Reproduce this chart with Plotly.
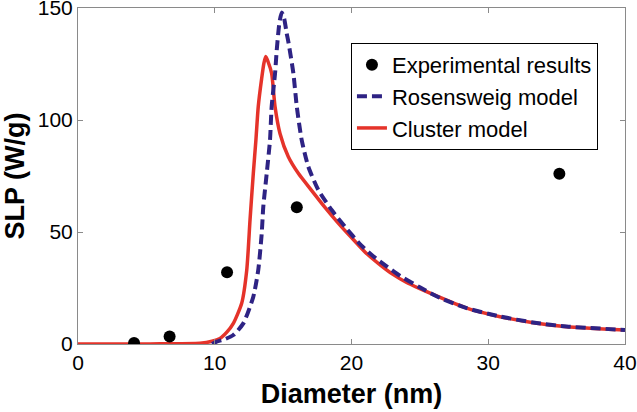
import plotly.graph_objects as go

# Experimental results
exp_d = [4.1, 6.7, 10.9, 16.0, 35.2]
exp_slp = [0.5, 3.3, 32, 61, 76]

# Rosensweig model
ros_d = [9.8, 10.14, 10.8, 11.36, 12.09, 12.82, 13.18, 13.43, 13.55, 13.8, 14.04,
         14.16, 14.41, 14.53, 14.73, 14.9, 15.07, 15.26, 15.38, 15.75, 16.0, 16.36, 16.84,
         17.57, 18.55, 19.52, 20.62, 21.59, 22.57, 23.55, 25.0, 26.5, 28.42, 30.86,
         33.29, 35.74, 40.0]
ros_slp = [0.0, 1.0, 2.3, 4.0, 9.2, 21.1, 33.0, 49.0, 61.3, 76.2, 91.0,
           105.9, 120.8, 131.0, 143.5, 148.0, 145.5, 138.7, 135.0, 120.8, 105.9, 91.0, 79.2,
           68.8, 59.8, 52.4, 44.6, 39.2, 34.7, 30.4, 25.3, 20.5, 16.0, 12.3,
           9.6, 7.8, 6.3]

# Cluster model
clu_d = [0, 5.27, 8.92, 9.8, 10.38, 10.9, 11.36, 11.97, 12.34, 12.58, 12.82, 13.01,
         13.18, 13.43, 13.6, 13.73, 13.9, 14.16, 14.41, 14.77, 15.38, 16.11, 17.09,
         18.06, 19.03, 20.0, 21.0, 22.0, 23.0, 24.0, 25.0, 26.0, 28.42, 30.86, 33.29,
         35.74, 40.0]
clu_slp = [0, 0.05, 0.3, 1.2, 2.5, 5.4, 9.2, 18.2, 33.0, 55.4, 76.2, 91.0,
           105.9, 118.5, 125.5, 128.3, 126.0, 120.8, 105.9, 94.0, 83.6, 76.2, 68.5,
           61.0, 54.0, 47.5, 41.0, 35.8, 31.2, 27.6, 24.7, 22.0, 16.0, 12.2, 9.5,
           7.7, 6.25]

x_ticks = [0, 10, 20, 30, 40]
y_ticks = [0, 50, 100, 150]

RED = "#e5332a"
BLUE = "#2e2384"
FONT = "Liberation Sans, Arial, sans-serif"

fig = go.Figure()
fig.add_trace(go.Scatter(x=clu_d, y=clu_slp, mode="lines", name="Cluster model",
                         line=dict(color=RED, width=3.5, shape="spline", smoothing=0.6)))
fig.add_trace(go.Scatter(x=ros_d, y=ros_slp, mode="lines", name="Rosensweig model",
                         line=dict(color=BLUE, width=4, dash="10px,5px", shape="spline", smoothing=0.6)))
fig.add_trace(go.Scatter(x=exp_d, y=exp_slp, mode="markers", name="Experimental results",
                         marker=dict(color="black", size=12)))

axis_common = dict(showline=True, linecolor="#8a8a8a", linewidth=1, mirror="ticks",
                   ticks="inside", ticklen=5, tickcolor="#8a8a8a", showgrid=False,
                   zeroline=False, ticklabeloverflow="allow",
                   tickfont=dict(family=FONT, size=21, color="black"))

fig.update_xaxes(range=[0, 40], tickvals=x_ticks, ticktext=[str(v) for v in x_ticks],
                 title=dict(text="Diameter (nm)", font=dict(family=FONT, size=27, color="black", weight="bold"),
                            standoff=10),
                 **axis_common)
fig.update_yaxes(range=[0, 150], tickvals=y_ticks, ticktext=[str(v) for v in y_ticks],
                 title=dict(text="SLP (W/g)", font=dict(family=FONT, size=27, color="black", weight="bold"),
                            standoff=8),
                 **axis_common)

fig.update_layout(
    width=637, height=412,
    margin=dict(l=78, r=12, t=8, b=68, autoexpand=False),
    paper_bgcolor="white", plot_bgcolor="white",
    legend=dict(x=0.499, y=0.896, xanchor="left", yanchor="top",
                bgcolor="white", bordercolor="black", borderwidth=1,
                font=dict(family=FONT, size=22, color="black"),
                traceorder="reversed", tracegroupgap=0),
    showlegend=True,
)

fig.write_html("out.html", config={"displayModeBar": False},
               post_script="document.body.style.margin='0px';document.body.style.overflow='hidden';")
